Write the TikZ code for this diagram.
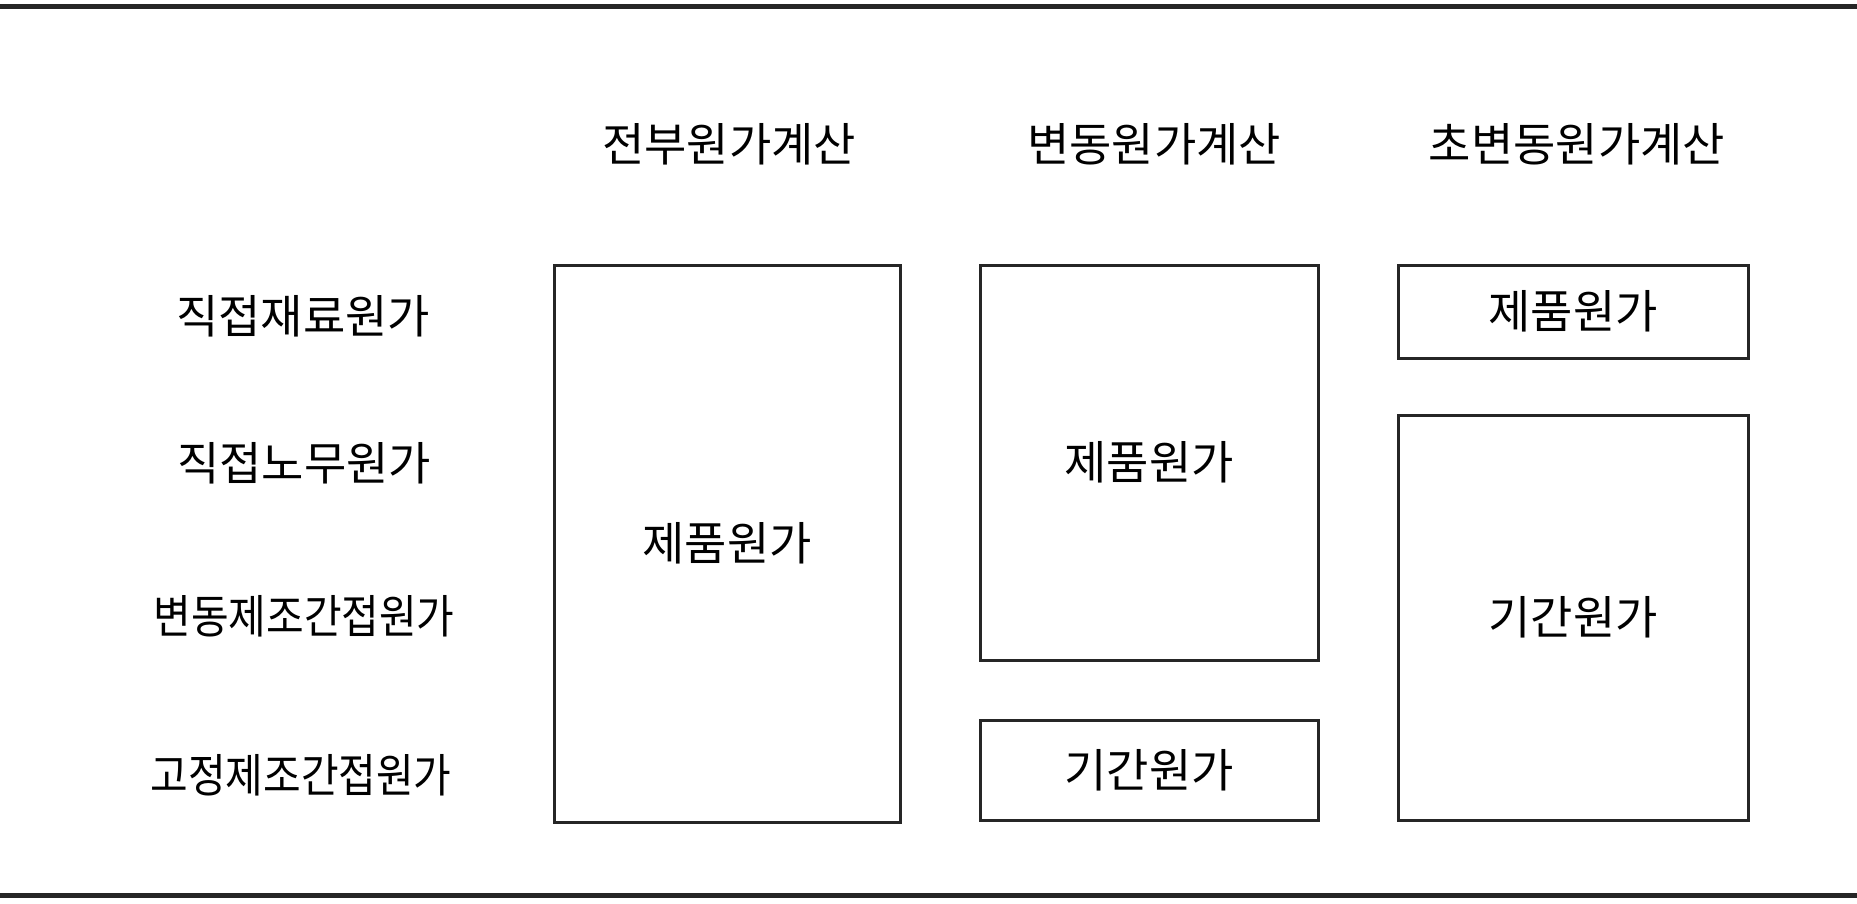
\documentclass[tikz,border=0pt]{standalone}
\usepackage{fontspec}
\setmainfont{Noto Sans CJK KR}
\begin{document}
\begin{tikzpicture}[x=1pt,y=-1pt,
  lbl/.style={font=\fontsize{46}{50}\selectfont, inner sep=0pt, text=black},
  narrow/.style={xscale=0.89},
  costbox/.style={draw=black!85, line width=3pt, inner sep=0pt},
  rule/.style={draw=black!85, line width=5pt}]
\useasboundingbox (0,0) rectangle (1857,903);
% rules
\coordinate (tl) at (0,6); \coordinate (tr) at (1857,6);
\coordinate (bl) at (0,895); \coordinate (br) at (1857,895);
\draw[rule] (tl) -- (tr);
\draw[rule] (bl) -- (br);
% headers
\node[lbl] (h1) at (729,144) {전부원가계산};
\node[lbl] (h2) at (1154,144) {변동원가계산};
\node[lbl] (h3) at (1577,144) {초변동원가계산};
% left labels
\node[lbl] (l1) at (303,316) {직접재료원가};
\node[lbl] (l2) at (304,463) {직접노무원가};
\node[lbl, narrow] (l3) at (304,616) {변동제조간접원가};
\node[lbl, narrow] (l4) at (301,775) {고정제조간접원가};
% boxes
\draw[costbox] (554,265) rectangle (900,822) node[midway, lbl] (b1) {제품원가};
\draw[costbox] (980,265) rectangle (1318,660) node[midway, lbl] (b2) {제품원가};
\draw[costbox] (980,720) rectangle (1318,820) node[midway, lbl] (b3) {기간원가};
\draw[costbox] (1398,265) rectangle (1748,358) node[midway, lbl] (b4) {제품원가};
\draw[costbox] (1398,415) rectangle (1748,820) node[midway, lbl] (b5) {기간원가};
\end{tikzpicture}
\end{document}
